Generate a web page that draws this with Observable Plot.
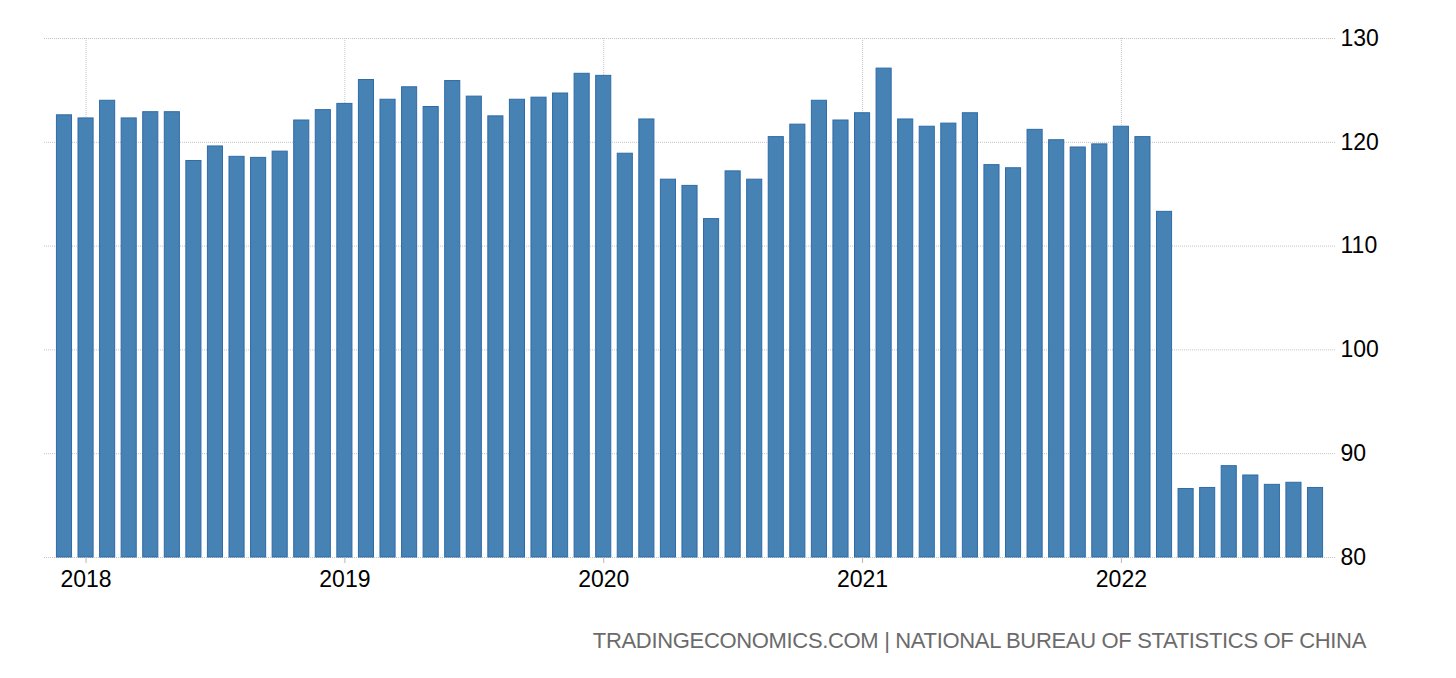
<!DOCTYPE html>
<html><head><meta charset="utf-8">
<script src="https://cdn.jsdelivr.net/npm/d3@7"></script>
<script src="https://cdn.jsdelivr.net/npm/@observablehq/plot@0.6"></script>
<style>
body{margin:0;background:#fff;}
#wrap{position:relative;width:1456px;height:678px;overflow:hidden;}
#caption{position:absolute;right:90px;top:628px;font-family:"Liberation Sans",sans-serif;font-size:22px;letter-spacing:-0.33px;color:#6b6b6b;white-space:nowrap;}
</style></head><body><div id="wrap"><div id="chart"></div><div id="caption">TRADINGECONOMICS.COM | NATIONAL BUREAU OF STATISTICS OF CHINA</div></div>
<script>
const months = [
  "2017-12",
  "2018-01","2018-02","2018-03","2018-04","2018-05","2018-06","2018-07","2018-08","2018-09","2018-10","2018-11","2018-12",
  "2019-01","2019-02","2019-03","2019-04","2019-05","2019-06","2019-07","2019-08","2019-09","2019-10","2019-11","2019-12",
  "2020-01","2020-02","2020-03","2020-04","2020-05","2020-06","2020-07","2020-08","2020-09","2020-10","2020-11","2020-12",
  "2021-01","2021-02","2021-03","2021-04","2021-05","2021-06","2021-07","2021-08","2021-09","2021-10","2021-11","2021-12",
  "2022-01","2022-02","2022-03","2022-04","2022-05","2022-06","2022-07","2022-08","2022-09","2022-10"
];
const values = [
  122.6,
  122.3,124.0,122.3,122.9,122.9,118.2,119.6,118.6,118.5,119.1,122.1,123.1,
  123.7,126.0,124.1,125.3,123.4,125.9,124.4,122.5,124.1,124.3,124.7,126.6,
  126.4,118.9,122.2,116.4,115.8,112.6,117.2,116.4,120.5,121.7,124.0,122.1,
  122.8,127.1,122.2,121.5,121.8,122.8,117.8,117.5,121.2,120.2,119.5,119.8,
  121.5,120.5,113.3,86.6,86.7,88.8,87.9,87.0,87.2,86.7
];
const yearTicks = ["2018-01","2019-01","2020-01","2021-01","2022-01"];
const yearLabels = ["2018","2019","2020","2021","2022"];
const yTicks = [80,90,100,110,120,130];

const data = months.map((m, i) => ({month: m, value: values[i]}));

const chart = Plot.plot({
  width: 1456, height: 600,
  marginLeft: 44, marginRight: 121, marginTop: 38, marginBottom: 43,
  style: {fontFamily: "'Liberation Sans', sans-serif", fontSize: "23px", color: "#000", background: "#fff"},
  x: {type: "band", domain: months, range: [53.2, 1325.8], paddingInner: 0.3, paddingOuter: 0.15},
  y: {domain: [80, 130]},
  marks: [
    Plot.ruleY(yTicks, {stroke: "#c4c4c4", strokeDasharray: "1,1"}),
    Plot.ruleX(yearTicks, {x: d => d, y1: 80, y2: 130, stroke: "#c4c4c4", strokeDasharray: "1,1"}),
    Plot.rectY(data, {x: "month", y1: 80, y2: "value", fill: "#4682b4", stroke: "#2f6ba7", strokeWidth: 1}),
    Plot.axisX({ticks: yearTicks, tickFormat: d => yearLabels[yearTicks.indexOf(d)], tickSize: 6, tickPadding: 7, stroke: "#b5b5b5", fill: "#000", label: null}),
    Plot.axisY({anchor: "right", ticks: yTicks, tickSize: 0, tickPadding: 5, fill: "#000", label: null})
  ]
});
document.getElementById("chart").appendChild(chart);
</script>
</body></html>
